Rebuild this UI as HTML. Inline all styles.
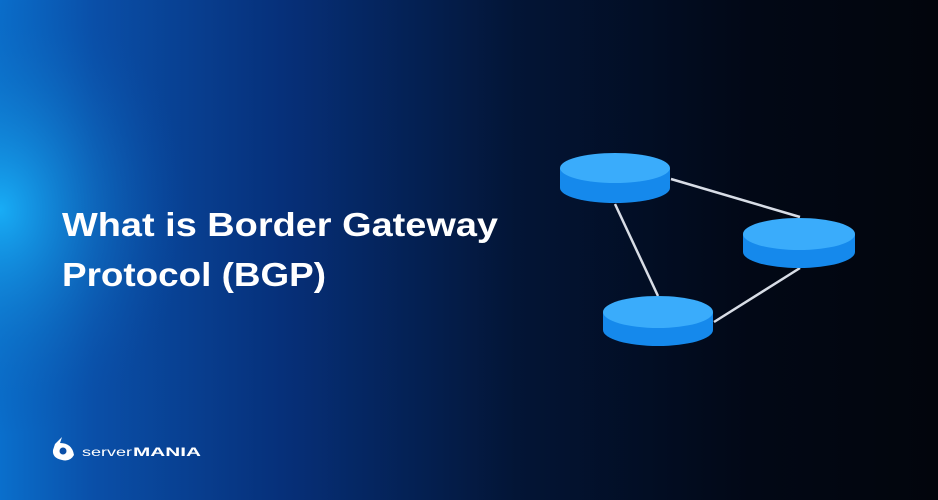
<!DOCTYPE html>
<html><head><style>
html,body{margin:0;padding:0;width:938px;height:500px;overflow:hidden;background:#02060f}
</style></head><body>
<svg width="938" height="500" viewBox="0 0 938 500" xmlns="http://www.w3.org/2000/svg">
<defs>
<linearGradient id="bg" x1="0" y1="0" x2="1" y2="0">
<stop offset="0" stop-color="#0a6fcc"/>
<stop offset="0.1" stop-color="#0a4fa8"/>
<stop offset="0.3" stop-color="#06307a"/>
<stop offset="0.55" stop-color="#031536"/>
<stop offset="0.8" stop-color="#020816"/>
<stop offset="1" stop-color="#02050c"/>
</linearGradient>
<radialGradient id="glow" cx="0" cy="0.42" r="0.45" gradientTransform="scale(0.45,1)">
<stop offset="0" stop-color="#19b0f8" stop-opacity="0.95"/>
<stop offset="1" stop-color="#0a4fa8" stop-opacity="0"/>
</radialGradient>
</defs>
<rect width="938" height="500" fill="url(#bg)"/>
<rect width="938" height="500" fill="url(#glow)"/>
<g stroke="#d8dde6" stroke-width="2.5">
<line x1="671" y1="179" x2="800" y2="217"/>
<line x1="615" y1="204" x2="658" y2="296"/>
<line x1="714" y1="322" x2="800" y2="268"/>
</g>
<g>
<path d="M560 168 L560 188 A55 15 0 0 0 670 188 L670 168 Z" fill="#1589ec"/>
<ellipse cx="615" cy="168" rx="55" ry="15" fill="#3aacfb"/>
<path d="M743 234 L743 252 A56 16 0 0 0 855 252 L855 234 Z" fill="#1589ec"/>
<ellipse cx="799" cy="234" rx="56" ry="16" fill="#3aacfb"/>
<path d="M603 312 L603 330 A55 16 0 0 0 713 330 L713 312 Z" fill="#1589ec"/>
<ellipse cx="658" cy="312" rx="55" ry="16" fill="#3aacfb"/>
</g>
<g font-family="Liberation Sans, sans-serif" font-weight="bold" fill="#ffffff" font-size="33">
<text x="62" y="236" textLength="436" lengthAdjust="spacingAndGlyphs">What is Border Gateway</text>
<text x="62" y="286" textLength="264" lengthAdjust="spacingAndGlyphs">Protocol (BGP)</text>
</g>
<g fill="#ffffff">
<path d="M55 444 L62 437 L60 443 Q72 443 74 455 Q70 462 62 460 Q52 458 53 450 Z"/>
<circle cx="63" cy="451" r="3.5" fill="#0a4fa8"/>
<text x="82" y="456" font-family="Liberation Sans, sans-serif" font-size="12" textLength="50" lengthAdjust="spacingAndGlyphs">server</text>
<text x="133" y="456" font-family="Liberation Sans, sans-serif" font-weight="bold" font-size="12" textLength="68" lengthAdjust="spacingAndGlyphs">MANIA</text>
</g>
</svg>
</body></html>
